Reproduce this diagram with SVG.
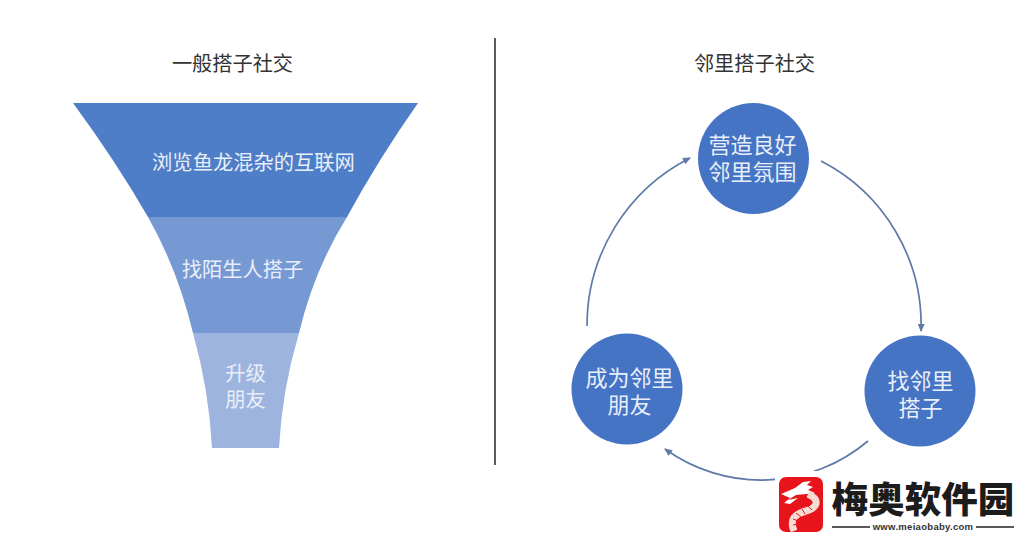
<svg xmlns="http://www.w3.org/2000/svg" width="1025" height="540" viewBox="0 0 1025 540">
<style>
text{font-family:"Noto Sans CJK SC","Liberation Sans",sans-serif;text-anchor:middle}
.title{font-size:20.200px;fill:#333}
.f{font-size:20.300px;fill:#e9eff9}
.c{font-size:22px;fill:#e9eff9}
.n{fill:#4674c4}
.arc{fill:none;stroke:#5d7aa8;stroke-width:1.7;marker-end:url(#arrow)}
</style>
<defs>
<marker id="arrow" markerUnits="userSpaceOnUse" markerWidth="8" markerHeight="7" refX="7" refY="3.500" orient="auto"><path d="M0 0L8 3.500L0 7z" fill="#5d7aa8"/></marker>
</defs>
<rect width="1025" height="540" fill="#fff"/>
<g id="titles">
<text class="title" x="232.500" y="71">一般搭子社交</text>
<text class="title" x="754.500" y="71">邻里搭子社交</text>
</g>
<line id="divider" x1="495" y1="38" x2="495" y2="465" stroke="#333" stroke-width="1.6"/>
<g id="funnel-1">
<path d="M73 103H418Q378 160 347 217H148Q115 160 73 103Z" fill="#4f7ec8"/>
<text class="f" x="253.500" y="170">浏览鱼龙混杂的互联网</text>
</g>
<g id="funnel-2">
<path d="M148 217H347Q314 270 299 333H193Q178 270 148 217Z" fill="#7699d4"/>
<text class="f" x="242.500" y="277">找陌生人搭子</text>
</g>
<g id="funnel-3">
<path d="M193 333H299Q282 390 279 448H212Q209 390 193 333Z" fill="#9db5de"/>
<text class="f" x="245.500" y="381">升级</text>
<text class="f" x="245.500" y="407">朋友</text>
</g>
<g id="connectors">
<path class="arc" d="M821 161A184 184 0 0 1 921 331"/>
<path class="arc" d="M868 441A165 165 0 0 1 665 449"/>
<path class="arc" d="M587 326A188 188 0 0 1 690 158"/>
</g>
<g id="node-top">
<circle class="n" cx="753.500" cy="158.500" r="55.500"/>
<text class="c" x="752.500" y="153">营造良好</text>
<text class="c" x="752.500" y="180">邻里氛围</text>
</g>
<g id="node-right">
<circle class="n" cx="920" cy="391" r="55.500"/>
<text class="c" x="920.500" y="389">找邻里</text>
<text class="c" x="920.500" y="416">搭子</text>
</g>
<g id="node-left">
<circle class="n" cx="627" cy="389" r="55.500"/>
<text class="c" x="629.500" y="386">成为邻里</text>
<text class="c" x="629.500" y="413">朋友</text>
</g>
<g id="watermark">
<rect x="775" y="471" width="250" height="69" fill="#fff"/>
<rect x="779" y="477" width="44" height="55" rx="7" fill="#e8141c"/>
<path d="M781 494L795 488L803 482L811 481L807 485L813 487L808 490L815 493L806 494L796 495L788 500L798 498L790 504L784 503L790 498Z" fill="#fff"/>
<path d="M808 494C821 500 817 508 806 511C795 514 789 519 794 531" fill="none" stroke="#f6dcd2" stroke-width="7"/>
<path d="M808 506L812 510M802 509L805 514M796 513L801 517M793 519L798 521M793 525L798 524" stroke="#e8141c" stroke-width="1"/>
<text x="923" y="513" style="font-size:36.500px;font-weight:900;fill:#1c1c1c">梅奥软件园</text>
<line x1="832" y1="527" x2="870" y2="527" stroke="#222" stroke-width="1.500"/>
<text x="923" y="530" style="font-size:9.500px;font-family:'Liberation Sans',sans-serif;font-weight:700;fill:#333;letter-spacing:.3px">www.meiaobaby.com</text>
<line x1="976" y1="527" x2="1014" y2="527" stroke="#222" stroke-width="1.500"/>
</g>
</svg>
